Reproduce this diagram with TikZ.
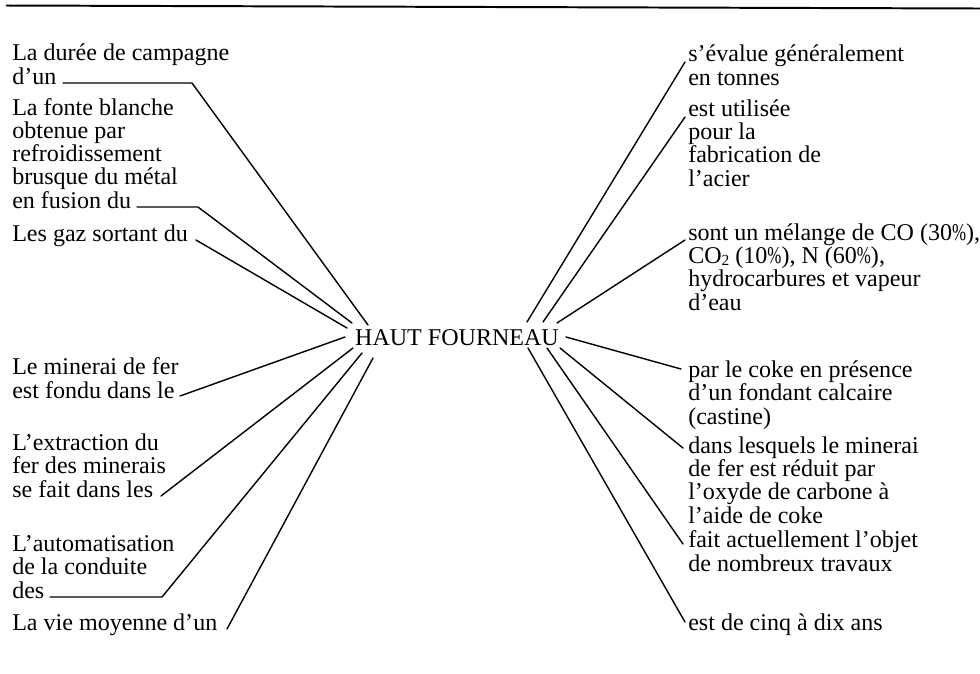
\documentclass[tikz,border=0pt]{standalone}
\usepackage{fontspec}
\setmainfont{Liberation Serif}
\newcommand{\pct}{\scalebox{0.7}[1]{\%}}
\newcommand{\subtwo}{\raisebox{-1.5pt}{\fontsize{11pt}{11pt}\selectfont 2}}
\tikzset{
  lbl/.style={anchor=base west, align=left, inner sep=0pt, font=\fontsize{17.1pt}{16.4pt}\selectfont},
  hub/.style={anchor=base, inner sep=0pt, font=\fontsize{17.1pt}{16.4pt}\selectfont},
  wire/.style={line width=1pt, line cap=round, line join=round},
}

\begin{document}
\begin{tikzpicture}[x=0.025cm, y=-0.025cm]%
\useasboundingbox (0,0) rectangle (980,673);%
\draw[line width=1.4pt] (6,5.5) -- (980,8.5);%
% centre
\node[hub] (hf) at (457,345) {HAUT FOURNEAU};%
\coordinate (hf-a) at (368,325);%
\coordinate (hf-b) at (352,323);%
\coordinate (hf-c) at (347,328);%
\coordinate (hf-d) at (345,337);%
\coordinate (hf-e) at (353,348);%
\coordinate (hf-f) at (362,353);%
\coordinate (hf-g) at (373,358);%
\coordinate (hf-r1) at (527,322);%
\coordinate (hf-r2) at (543,322);%
\coordinate (hf-r3) at (557,323);%
\coordinate (hf-r4) at (566,337);%
\coordinate (hf-r5) at (560,348);%
\coordinate (hf-r6) at (547,348);%
\coordinate (hf-r7) at (528,348);%
% left column (nodes sit on their last baseline)
\node[lbl] (duree) at (12,84) {La durée de campagne\\d'un};%
\coordinate (duree-s) at (63,83);%
\coordinate (duree-e) at (192,83);%
\node[lbl] (fonte) at (12,208) {La fonte blanche\\obtenue par\\refroidissement\\brusque du métal\\en fusion du};%
\coordinate (fonte-s) at (137,207);%
\coordinate (fonte-e) at (198,207);%
\node[lbl] (gaz) at (12,241) {Les gaz sortant du};%
\coordinate (gaz-e) at (196,240);%
\node[lbl] (minerai) at (12,398) {Le minerai de fer\\est fondu dans le};%
\coordinate (minerai-e) at (180,396);%
\node[lbl] (extraction) at (12,497) {L'extraction du\\fer des minerais\\se fait dans les};%
\coordinate (extraction-e) at (161,496);%
\node[lbl] (automat) at (12,598) {L'automatisation\\de la conduite\\des};%
\coordinate (automat-s) at (50,597);%
\coordinate (automat-e) at (162,597);%
\node[lbl] (vie) at (12,630) {La vie moyenne d'un};%
\coordinate (vie-e) at (227,629);%
% right column
\node[lbl] (evalue) at (688,85) {s'évalue généralement\\en tonnes};%
\coordinate (evalue-e) at (685,62);%
\node[lbl] (utilisee) at (688,186) {est utilisée\\pour la\\fabrication de\\l'acier};%
\coordinate (utilisee-e) at (685,117);%
\node[lbl] (melange) at (688,310) {sont un mélange de CO (30\pct),\\CO\subtwo{} (10\pct), N (60\pct),\\hydrocarbures et vapeur\\d'eau};%
\coordinate (melange-e) at (685,240);%
\node[lbl] (coke) at (688,424) {par le coke en présence\\d'un fondant calcaire\\(castine)};%
\coordinate (coke-e) at (681,369);%
\node[lbl] (lesquels) at (688,523) {dans lesquels le minerai\\de fer est réduit par\\l'oxyde de carbone à\\l'aide de coke};%
\coordinate (lesquels-e) at (683,448);%
\node[lbl] (travaux) at (688,571) {fait actuellement l'objet\\de nombreux travaux};%
\coordinate (travaux-e) at (683,544);%
\node[lbl] (cinq) at (688,630) {est de cinq à dix ans};%
\coordinate (cinq-e) at (685,622);%
% connectors
\draw[wire] (duree-s) -- (duree-e) -- (hf-a);%
\draw[wire] (fonte-s) -- (fonte-e) -- (hf-b);%
\draw[wire] (gaz-e) -- (hf-c);%
\draw[wire] (minerai-e) -- (hf-d);%
\draw[wire] (extraction-e) -- (hf-e);%
\draw[wire] (automat-s) -- (automat-e) -- (hf-f);%
\draw[wire] (vie-e) -- (hf-g);%
\draw[wire] (evalue-e) -- (hf-r1);%
\draw[wire] (utilisee-e) -- (hf-r2);%
\draw[wire] (melange-e) -- (hf-r3);%
\draw[wire] (coke-e) -- (hf-r4);%
\draw[wire] (lesquels-e) -- (hf-r5);%
\draw[wire] (travaux-e) -- (hf-r6);%
\draw[wire] (cinq-e) -- (hf-r7);%
\end{tikzpicture}
\end{document}
